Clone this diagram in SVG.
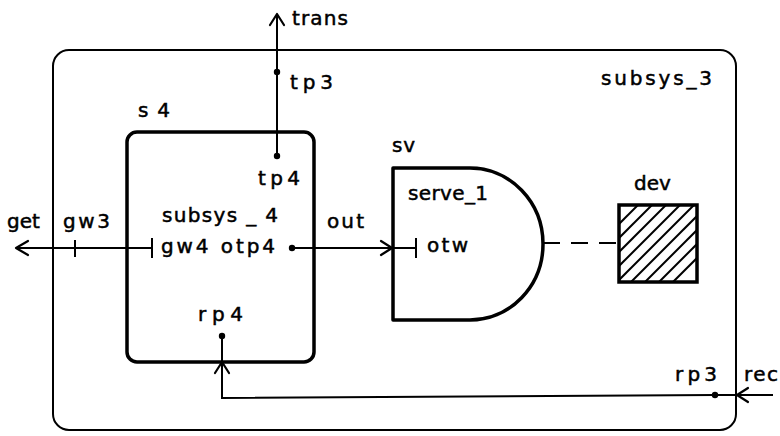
<svg xmlns="http://www.w3.org/2000/svg" width="780" height="436" viewBox="0 0 780 436">
<style>
text{font-family:"DejaVu Sans","Liberation Sans",sans-serif;font-size:20px;fill:#000;stroke:#000;stroke-width:0.5}
.ln{fill:none;stroke:#000;stroke-width:2}
.thick{fill:none;stroke:#000;stroke-width:3.5;stroke-linejoin:round}
.ah{fill:none;stroke:#000;stroke-width:2.2;stroke-linecap:round;stroke-linejoin:round}
.dot{fill:#000}
</style>
<defs>
<clipPath id="devclip"><rect x="619" y="205" width="78" height="77"/></clipPath>
</defs>
<rect width="780" height="436" fill="#fff"/>

<g id="subsys_3">
<rect x="53" y="50" width="683" height="380" rx="16" class="ln"/>
<text x="601" y="85" textLength="111" lengthAdjust="spacing">subsys_3</text>
</g>

<g id="s4">
<rect x="127" y="132" width="187" height="230" rx="10" class="thick"/>
<text x="138" y="117" textLength="32" lengthAdjust="spacing">s4</text>
<text x="162" y="222" textLength="116" lengthAdjust="spacing">subsys _ 4</text>
<text x="258" y="185" textLength="42" lengthAdjust="spacing">tp4</text>
<text x="161" y="253" textLength="114" lengthAdjust="spacing">gw4 otp4</text>
<text x="198" y="321" textLength="45" lengthAdjust="spacing">rp4</text>
</g>

<g id="sv">
<path d="M393,168 H470 A73,76 0 0 1 470,320 H393 Z" class="thick"/>
<text x="392" y="152" textLength="23" lengthAdjust="spacing">sv</text>
<text x="408" y="200" textLength="80" lengthAdjust="spacing">serve_1</text>
<text x="427" y="252" textLength="41" lengthAdjust="spacing">otw</text>
</g>

<g id="dev">
<g clip-path="url(#devclip)" stroke="#000" stroke-width="2">
<line x1="561" y1="282" x2="648" y2="195"/>
<line x1="575" y1="282" x2="662" y2="195"/>
<line x1="589" y1="282" x2="676" y2="195"/>
<line x1="603" y1="282" x2="690" y2="195"/>
<line x1="617" y1="282" x2="704" y2="195"/>
<line x1="631" y1="282" x2="718" y2="195"/>
<line x1="645" y1="282" x2="732" y2="195"/>
<line x1="659" y1="282" x2="746" y2="195"/>
<line x1="673" y1="282" x2="760" y2="195"/>
</g>
<rect x="619" y="205" width="78" height="77" fill="none" stroke="#000" stroke-width="3.5"/>
<text x="634" y="190">dev</text>
</g>

<g id="connectors">
<line x1="277" y1="14" x2="277" y2="156" class="ln"/>
<path d="M270,25 L277,14 L284,25" class="ah"/>
<circle cx="277" cy="72" r="3.2" class="dot"/>
<circle cx="277" cy="156" r="3.2" class="dot"/>
<line x1="16" y1="248" x2="152" y2="248" class="ln"/>
<path d="M28,241 L16,248 L28,255" class="ah"/>
<line x1="75" y1="240" x2="75" y2="257" class="ln"/>
<line x1="152" y1="238" x2="152" y2="258" class="ln"/>
<line x1="292" y1="248" x2="416" y2="248" class="ln"/>
<circle cx="292" cy="248" r="3.2" class="dot"/>
<path d="M381,241 L392,248 L381,255" class="ah"/>
<line x1="416" y1="238" x2="416" y2="258" class="ln"/>
<line x1="543" y1="243" x2="619" y2="243" class="ln" stroke-dasharray="17 11"/>
<polyline points="222,336 222,398 715,395 773,395" class="ln"/>
<circle cx="222" cy="336" r="3.2" class="dot"/>
<path d="M215,373 L222,362 L229,373" class="ah"/>
<circle cx="715" cy="395" r="3.2" class="dot"/>
<path d="M748,388 L737,395 L748,402" class="ah"/>
</g>

<g id="labels">
<text x="292" y="25" textLength="56" lengthAdjust="spacing">trans</text>
<text x="290" y="89" textLength="43" lengthAdjust="spacing">tp3</text>
<text x="7" y="228">get</text>
<text x="63" y="228" textLength="47" lengthAdjust="spacing">gw3</text>
<text x="327" y="228" textLength="37" lengthAdjust="spacing">out</text>
<text x="675" y="381" textLength="42" lengthAdjust="spacing">rp3</text>
<text x="744" y="381" textLength="34" lengthAdjust="spacing">rec</text>
</g>
</svg>
